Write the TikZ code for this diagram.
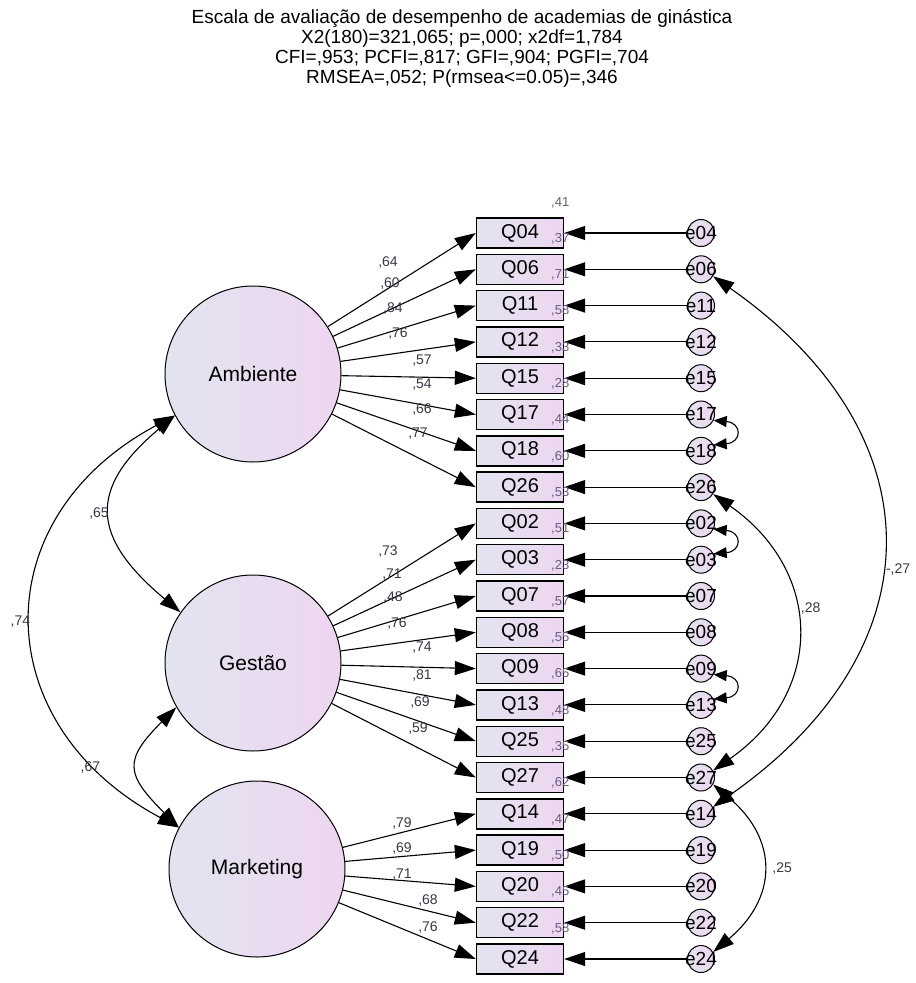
\documentclass[tikz,border=0pt]{standalone}
\usepackage{fontspec}
\setmainfont{Liberation Sans}
\usetikzlibrary{arrows.meta,positioning}

\definecolor{fillA}{RGB}{226,228,240}
\definecolor{fillB}{RGB}{238,214,240}
\definecolor{ldgray}{RGB}{55,55,70}
\definecolor{rsqgray}{RGB}{95,95,130}

\tikzset{
  lat/.style={circle,draw,line width=1pt,minimum size=176pt,inner sep=0pt,
    left color=fillA,right color=fillB,font=\fontsize{21}{21}\selectfont},
  obs/.style={rectangle,draw,line width=1.4pt,minimum width=87pt,minimum height=30pt,
    inner sep=0pt,left color=fillA,right color=fillB,font=\fontsize{20}{20}\selectfont},
  err/.style={circle,draw,line width=1pt,minimum size=27pt,inner sep=0pt,
    left color=fillA,right color=fillB,font=\fontsize{19}{19}\selectfont},
  rsq/.style={font=\fontsize{13}{13}\selectfont,text=rsqgray,inner sep=0pt,anchor=south,
    xshift=-4pt,yshift=9pt},
  ld/.style={font=\fontsize{14}{14}\selectfont,text=ldgray,inner sep=0pt},
  cl/.style={font=\fontsize{14}{14}\selectfont,text=ldgray,inner sep=2pt},
  ttl/.style={align=center,font=\fontsize{19}{20}\selectfont,inner sep=0pt},
  small/.style={{Triangle[length=13pt,width=11pt]}-{Triangle[length=13pt,width=11pt]}}
}

\begin{document}
\begin{tikzpicture}[x=1pt,y=1pt,line width=1.1pt,>={Triangle[length=21pt,width=14pt]}]
\useasboundingbox (0,0) rectangle (916,-983);

\node[ttl] (title) at (462,-48) {Escala de avaliação de desempenho de academias de ginástica\\
  X2(180)=321,065; p=,000; x2df=1,784\\
  CFI=,953; PCFI=,817; GFI=,904; PGFI=,704\\
  RMSEA=,052; P(rmsea<=0.05)=,346};

% factors
\node[lat] (amb) at (253,-374) {Ambiente};
\node[lat] (ges) at (253,-663) {Gestão};
\node[lat] (mkt) at (257,-869) {Marketing};

% items, errors
\foreach \q/\r [count=\i from 0] in {04/41,06/37,11/71,12/58,15/33,17/28,18/44,26/60,
    02/53,03/51,07/23,08/57,09/55,13/65,25/48,27/35,14/62,19/47,20/50,22/45,24/58}{
  \node[obs,label={[rsq]north east:,\r}] (q\q) at (520,{-233-36.3*\i}) {Q\q};
  \node[err] (e\q) at (701,{-233-36.3*\i}) {\makebox[0pt]{e\q}};
  \draw[->] (e\q) -- (q\q);
}

% loadings
\foreach \q in {04,06,11,12,15,17,18,26} \draw[->] (amb) -- (q\q.west);
\foreach \q in {02,03,07,08,09,13,25,27} \draw[->] (ges) -- (q\q.west);
\foreach \q in {14,19,20,22,24} \draw[->] (mkt) -- (q\q.west);

\foreach \v/\x/\y [count=\k] in {64/388/263,60/390/284,84/393/309,76/398/334,
    57/422/361,54/422/385,66/422/410,77/418/434,
    73/388/552,71/392/575,48/393/597,76/397/623,74/422/648,81/422/675,69/420/702,59/418/728,
    79/402/823,69/402/848,71/402/875,68/428/900,76/428/927}
  \node[ld] (ld\k) at (\x,-\y) {,\v};

% covariances
\draw[<->] (amb.208) to[out=220,in=140,looseness=1.5] node[cl,left] (c1) {,65} (ges.145);
\draw[<->] (amb.208) to[out=208,in=152,looseness=1.35] node[cl,left] (c2) {,74} (mkt.152);
\draw[<->] (ges.210) to[out=225,in=135,looseness=1.6] node[cl,left,xshift=-35pt] (c3) {,67} (mkt.152);
\draw[<->] (e06.-30) to[out=-35,in=35,looseness=1.33] node[cl,right,pos=.55,xshift=3pt] (c4) {-,27} (e14.30);
\draw[<->] (e26.-30) to[out=-35,in=35,looseness=1.26] node[cl,right,pos=.42,xshift=4pt] (c5) {,28} (e27.30);
\draw[<->] (e27.-30) to[out=-40,in=40,looseness=1.3] node[cl,right,xshift=8pt] (c6) {,25} (e24.30);
\draw[small] (e17.-25) to[out=-5,in=5,looseness=3] (e18.25);
\draw[small] (e02.-25) to[out=-5,in=5,looseness=3] (e03.25);
\draw[small] (e09.-25) to[out=-5,in=5,looseness=3] (e13.25);
\end{tikzpicture}
\end{document}
